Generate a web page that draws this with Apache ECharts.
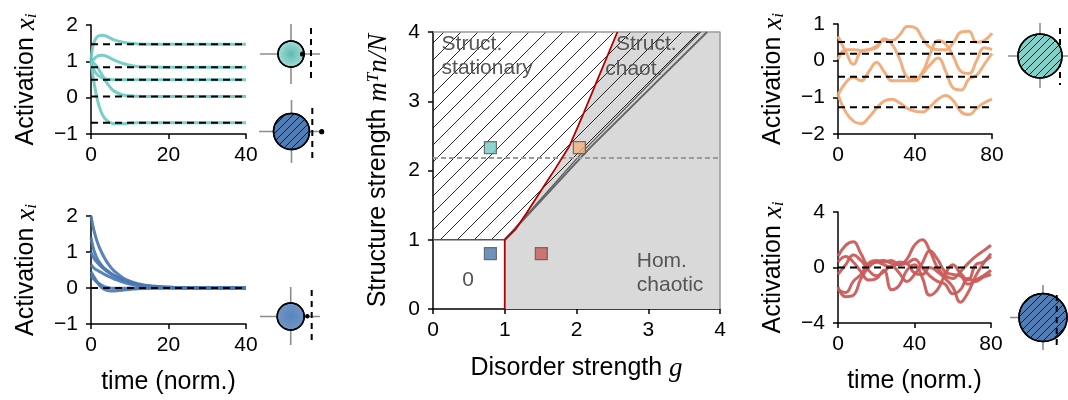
<!DOCTYPE html>
<html>
<head>
<meta charset="utf-8">
<script src="https://cdn.jsdelivr.net/npm/echarts@6/dist/echarts.min.js"></script>
<style>
  html, body { margin: 0; padding: 0; background: #fff; }
  #chart { width: 1068px; height: 400px; }
</style>
</head>
<body>
<div id="chart"></div>
<script>
// ---------- data ----------
// Structured stationary regime (top left): time samples and unit trajectories
const tStat = [0, 0.5, 1, 1.5, 2, 3, 4, 5, 6, 8, 10, 12, 15, 20, 30, 40];
const statA = [1.05, 1.42, 1.58, 1.66, 1.70, 1.72, 1.69, 1.64, 1.59, 1.53, 1.50, 1.48, 1.47, 1.47, 1.47, 1.47];
const statB = [0.95, 1.03, 1.09, 1.13, 1.16, 1.17, 1.14, 1.09, 1.03, 0.95, 0.89, 0.86, 0.85, 0.84, 0.84, 0.84];
const statC = [0.95, 0.82, 0.72, 0.65, 0.60, 0.54, 0.51, 0.50, 0.49, 0.49, 0.49, 0.49, 0.49, 0.49, 0.49, 0.49];
const statD = [1.00, 0.96, 0.92, 0.86, 0.78, 0.60, 0.42, 0.28, 0.18, 0.08, 0.05, 0.04, 0.03, 0.03, 0.03, 0.03];
const statE = [1.05, 0.60, 0.28, 0.02, -0.20, -0.48, -0.62, -0.69, -0.72, -0.72, -0.70, -0.69, -0.69, -0.69, -0.69, -0.69];
const statFixed = [1.47, 0.84, 0.49, 0.03, -0.69];

// Homogeneous stationary regime (bottom left)
const tHom = [0, 0.5, 1, 1.5, 2, 3, 4, 5, 6, 8, 10, 12, 15, 20, 25, 30, 40];
const homA = [2.00, 1.72, 1.50, 1.32, 1.17, 0.93, 0.74, 0.59, 0.47, 0.30, 0.19, 0.12, 0.06, 0.02, 0.01, 0, 0];
const homB = [1.40, 1.15, 0.97, 0.84, 0.74, 0.60, 0.50, 0.42, 0.35, 0.24, 0.16, 0.10, 0.05, 0.02, 0.01, 0, 0];
const homC = [1.00, 0.88, 0.79, 0.72, 0.66, 0.56, 0.47, 0.40, 0.34, 0.23, 0.16, 0.10, 0.05, 0.02, 0.01, 0, 0];
const homD = [0.65, 0.58, 0.53, 0.50, 0.47, 0.41, 0.35, 0.30, 0.25, 0.17, 0.11, 0.07, 0.04, 0.01, 0, 0, 0];
const homE = [0.45, 0.36, 0.27, 0.18, 0.10, -0.01, -0.06, -0.08, -0.08, -0.06, -0.04, -0.02, -0.01, 0, 0, 0, 0];
const homF = [0.35, 0.28, 0.22, 0.17, 0.13, 0.06, 0.02, 0.00, -0.01, -0.01, 0, 0, 0, 0, 0, 0, 0];
const homFixed = [0];

// Structured chaotic regime (top right)
const tChaos = [0, 4, 8, 12, 16, 20, 24, 28, 32, 36, 40, 44, 48, 52, 56, 60, 64, 68, 72, 76, 80];
const scA = [0.66, 0.25, -0.10, 0.25, 0.30, 0.35, 0.60, 0.45, 0.05, -0.45, -0.50, -0.30, 0.20, 0.55, 0.45, 0.10, -0.30, -0.35, 0.00, 0.35, 0.30];
const scB = [0.03, 0.30, 0.30, 0.28, 0.30, 0.40, 0.55, 0.55, 0.70, 0.93, 0.90, 0.60, 0.35, 0.30, 0.30, 0.50, 0.78, 0.80, 0.50, 0.55, 0.75];
const scC = [-0.93, -0.60, -0.45, -0.55, -0.30, -0.05, -0.30, -0.55, -0.55, -0.55, -0.55, -0.35, -0.10, 0.07, -0.30, -0.75, -0.80, -0.50, -0.40, -0.10, 0.20];
const scD = [-0.93, -1.40, -1.65, -1.72, -1.55, -1.30, -1.10, -1.05, -1.15, -1.30, -1.38, -1.40, -1.25, -1.05, -0.95, -1.10, -1.40, -1.47, -1.30, -1.15, -1.05];
const scFixed = [0.51, 0.19, -0.44, -1.27];

// Homogeneous chaotic regime (bottom right)
const hcA = [0.8, 1.6, 1.85, 1.0, 0.2, 0.4, 0.5, 0.3, 0.2, 0.6, 1.6, 2.0, 1.2, 0.0, -0.6, -0.8, -0.3, 0.3, 0.8, 1.2, 1.6];
const hcB = [-1.4, -2.1, -2.0, -0.8, 0.0, 0.4, 0.2, 0.0, 0.4, 0.3, -0.4, -0.5, 0.0, -0.3, -0.8, -1.4, -2.5, -1.8, -0.6, 0.3, 1.0];
const hcC = [-0.5, 0.2, 0.9, 0.5, -0.2, -0.6, -0.3, 0.1, -0.4, -1.0, -0.5, 0.3, 1.2, 0.6, -0.3, -0.5, -0.6, -1.2, -0.9, -0.6, -0.2];
const hcD = [0.4, 0.8, 0.4, -0.3, -0.9, -0.8, -0.2, -1.6, -1.3, -0.2, 0.2, -0.7, -2.0, -1.6, -0.5, 0.2, -0.4, -0.9, 0.2, 0.4, 0.8];
const hcE = [-1.6, -1.8, -1.0, -0.5, 0.3, 0.5, 0.4, 0.5, 0.2, 0.3, 0.6, 0.0, -0.6, -1.0, -1.2, -1.9, -1.6, -0.8, -1.0, -0.7, -0.5];
const hcFixed = [0];

// Phase diagram boundaries (g, m^T n / N)
const chaosOnsetG = [1.00, 1.15, 1.30, 1.50, 1.70, 1.90, 2.10, 2.30, 2.57];
const chaosOnsetY = [1.00, 1.15, 1.38, 1.70, 2.02, 2.35, 2.83, 3.33, 4.00];
const structEdgeInnerG = [1.00, 2.13, 3.73];
const structEdgeOuterG = [1.00, 2.18, 3.82];
const structEdgeY = [1.00, 2.32, 4.00];
const sectionLevel = 2.18;

// Example parameter points (g, m^T n / N)
const exampleG = [0.80, 2.04, 0.80, 1.51];
const exampleY = [2.33, 2.33, 0.80, 0.80];
const exampleColors = ['#73cbc3', '#f2b07e', '#4b76ae', '#c75a56'];

// Region names
const regionText = ['Struct.\nstationary', 'Struct.', 'chaot.', 'Hom.\nchaotic', '0'];
const regionG = [0.12, 2.55, 2.40, 2.84, 0.49];
const regionY = [4.00, 4.00, 3.64, 0.86, 0.42];

// ---------- styling helpers ----------
const FONT = '"Liberation Sans", Arial, sans-serif';
const MATH = '"Liberation Serif", "DejaVu Serif", serif';
const TEAL = 'rgba(108, 203, 194, 0.92)';
const BLUE = 'rgba(74, 120, 178, 0.92)';
const ORANGE = 'rgba(241, 170, 118, 0.95)';
const RED = 'rgba(203, 92, 88, 0.95)';

const minus = v => String(v).replace('-', '\u2212');
const pairs = (xs, ys) => xs.map((x, i) => [x, ys[i]]);

function hatchCanvas(step, width, color) {
  const c = document.createElement('canvas');
  c.width = step; c.height = step;
  const ctx = c.getContext('2d');
  ctx.strokeStyle = color; ctx.lineWidth = width;
  ctx.beginPath();
  ctx.moveTo(-1, step + 1); ctx.lineTo(step + 1, -1);
  ctx.moveTo(-2, 2); ctx.lineTo(2, -2);
  ctx.moveTo(step - 2, step + 2); ctx.lineTo(step + 2, step - 2);
  ctx.stroke();
  return c;
}
const bigHatch = { image: hatchCanvas(17, 0.9, '#111'), repeat: 'repeat' };
const smallHatch = { image: hatchCanvas(8, 1.0, '#111'), repeat: 'repeat' };

const nameRich = {
  a: { fontSize: 25, fontFamily: FONT, color: '#000' },
  x: { fontSize: 27, fontFamily: MATH, fontStyle: 'italic', color: '#000' },
  s: { fontSize: 17, fontFamily: MATH, fontStyle: 'italic', color: '#000', verticalAlign: 'bottom' },
  t: { fontSize: 17, fontFamily: MATH, fontStyle: 'italic', color: '#000', verticalAlign: 'top' }
};

function xAxis(gi, min, max, interval, extra) {
  return Object.assign({
    type: 'value', gridIndex: gi, min, max, interval,
    axisLine: { onZero: false, lineStyle: { color: '#000', width: 1.5 } },
    axisTick: { length: 5, lineStyle: { color: '#000', width: 1.5 } },
    axisLabel: { color: '#000', fontSize: 21, fontFamily: FONT, margin: 11, formatter: minus },
    splitLine: { show: false }
  }, extra || {});
}
function yAxis(gi, min, max, interval, extra) {
  return Object.assign({
    type: 'value', gridIndex: gi, min, max, interval,
    axisLine: { onZero: false, lineStyle: { color: '#000', width: 1.5 } },
    axisTick: { length: 5, lineStyle: { color: '#000', width: 1.5 } },
    axisLabel: { color: '#000', fontSize: 21, fontFamily: FONT, margin: 13, formatter: minus },
    splitLine: { show: false }
  }, extra || {});
}
const activationName = {
  name: '{a|Activation }{x|x}{s|i}', nameLocation: 'middle', nameRotate: 90, nameGap: 51,
  nameTextStyle: { rich: nameRich }
};
const timeName = {
  name: 'time (norm.)', nameLocation: 'middle', nameGap: 46,
  nameTextStyle: { fontSize: 25, fontFamily: FONT, color: '#000' }
};

function traces(axis, t, list, color) {
  return list.map(v => ({
    type: 'line', xAxisIndex: axis, yAxisIndex: axis, data: pairs(t, v),
    smooth: 0.45, symbol: 'none', silent: true, z: 2,
    lineStyle: { color, width: 3 }
  }));
}
function fixedLines(axis, t0, t1, levels) {
  return levels.map(v => ({
    type: 'line', xAxisIndex: axis, yAxisIndex: axis, data: [[t0, v], [t1, v]],
    symbol: 'none', silent: true, z: 4, clip: false,
    lineStyle: { color: '#000', width: 2, type: [7, 5] }
  }));
}
function polygonSeries(points, fill, z) {
  return {
    type: 'custom', xAxisIndex: 2, yAxisIndex: 2, data: [[0, 0]], silent: true, z,
    renderItem: (params, api) => ({
      type: 'polygon',
      shape: { points: points.map(p => api.coord(p)) },
      style: { fill, stroke: null }
    })
  };
}
function segSeries(points, style, z) {
  return {
    type: 'line', xAxisIndex: 2, yAxisIndex: 2, data: points, symbol: 'none',
    silent: true, z, clip: false, lineStyle: style
  };
}

// ---------- phase-diagram geometry from the boundary arrays ----------
const onset = pairs(chaosOnsetG, chaosOnsetY);
const edgeInner = pairs(structEdgeInnerG, structEdgeY);
const edgeOuter = pairs(structEdgeOuterG, structEdgeY);
const grayRegion = [[1, 0], [4, 0], [4, 4]].concat(onset.slice().reverse()).concat([[1, 0]]);
const hatchRegion = [[0, 1]].concat(edgeOuter).concat([[0, 4]]);

const series = []
  .concat(traces(0, tStat, [statA, statB, statC, statD, statE], TEAL))
  .concat(fixedLines(0, 0, 40, statFixed))
  .concat(traces(1, tHom, [homA, homB, homC, homD, homE, homF], BLUE))
  .concat(fixedLines(1, 0, 40, homFixed))
  .concat([
    polygonSeries(grayRegion, '#d9d9d9', 1),
    polygonSeries(hatchRegion, bigHatch, 2),
    segSeries([[0, 4], [4, 4], [4, 0]], { color: '#9a9a9a', width: 1.5 }, 3),
    segSeries([[0, 1], [1, 1]], { color: '#555', width: 1.6 }, 3),
    segSeries(edgeInner, { color: '#555', width: 1.2 }, 3),
    segSeries(edgeOuter, { color: '#666', width: 2 }, 3),
    segSeries([[0, sectionLevel], [4, sectionLevel]], { color: '#9a9a9a', width: 2, type: [5, 3] }, 4),
    segSeries([[1, 0], [1, 1]], { color: '#b00000', width: 1.8 }, 5),
    segSeries(onset, { color: '#b00000', width: 1.8 }, 5),
    {
      type: 'scatter', xAxisIndex: 2, yAxisIndex: 2, silent: true, z: 6,
      symbol: 'rect', symbolSize: 12,
      data: exampleG.map((g, i) => ({
        value: [g, exampleY[i]],
        itemStyle: { color: exampleColors[i], borderColor: '#555', borderWidth: 1.2 }
      }))
    },
    {
      type: 'custom', xAxisIndex: 2, yAxisIndex: 2, silent: true, z: 7,
      data: regionText.map((s, i) => [regionG[i], regionY[i]]),
      renderItem: (params, api) => {
        const p = api.coord([api.value(0), api.value(1)]);
        const single = regionText[params.dataIndex] === '0';
        return {
          type: 'text', x: p[0], y: p[1],
          style: {
            text: regionText[params.dataIndex], fill: '#555',
            fontSize: 21, fontFamily: FONT, lineHeight: 24,
            align: single ? 'center' : 'left', verticalAlign: single ? 'middle' : 'top'
          }
        };
      }
    }
  ])
  .concat(traces(3, tChaos, [scA, scB, scC, scD], ORANGE))
  .concat(fixedLines(3, 0, 80, scFixed))
  .concat(traces(4, tChaos, [hcA, hcB, hcC, hcD, hcE], RED))
  .concat(fixedLines(4, 0, 80, hcFixed));

// ---------- schematic connectivity icons ----------
function crossIcon(cx, cy, hx0, hx1, vy0, vy1) {
  return [
    { type: 'line', shape: { x1: hx0, y1: cy, x2: hx1, y2: cy }, style: { stroke: '#8c8c8c', lineWidth: 1.6 }, z: 10 },
    { type: 'line', shape: { x1: cx, y1: vy0, x2: cx, y2: vy1 }, style: { stroke: '#8c8c8c', lineWidth: 1.6 }, z: 10 }
  ];
}
function dashV(x, y0, y1, z) {
  return { type: 'line', shape: { x1: x, y1: y0, x2: x, y2: y1 }, style: { stroke: '#000', lineWidth: 2, lineDash: [6, 5] }, z };
}
function disc(cx, cy, r, fill, hatched) {
  const out = [{ type: 'circle', shape: { cx, cy, r }, style: { fill, stroke: '#000', lineWidth: 1.5 }, z: 12 }];
  if (hatched) out.push({ type: 'circle', shape: { cx, cy, r: r - 0.6 }, style: { fill: smallHatch, stroke: null }, z: 13 });
  out.push({ type: 'circle', shape: { cx, cy, r }, style: { fill: null, stroke: '#000', lineWidth: 1.5 }, z: 14 });
  return out;
}
function dot(x, y, r) {
  return { type: 'circle', shape: { cx: x, cy: y, r }, style: { fill: '#000' }, z: 16 };
}
const tealGlow = { type: 'radial', x: 0.5, y: 0.5, r: 0.5,
  colorStops: [{ offset: 0, color: '#5cbab1' }, { offset: 1, color: '#a3e0da' }] };
const blueGlow = { type: 'radial', x: 0.5, y: 0.5, r: 0.5,
  colorStops: [{ offset: 0, color: '#5a84bb' }, { offset: 1, color: '#6f96c7' }] };

const graphic = []
  .concat(crossIcon(291, 54, 260, 320, 24, 84), [dashV(311, 28, 82, 11)], disc(291, 54, 13, tealGlow, false), [dot(302.5, 54, 2.6)])
  .concat(crossIcon(291.5, 131.5, 259, 323, 100, 163), [dashV(312.3, 108, 163, 11)], disc(291.5, 131.5, 18, '#4f7db6', true), [dot(321.7, 131.7, 2.6)])
  .concat(crossIcon(290.7, 316.5, 260, 320, 287, 345), [dashV(311.7, 290, 345, 11)], disc(290.7, 316.5, 13.5, blueGlow, false), [dot(307.3, 316.3, 2.2)])
  .concat(crossIcon(1040, 56, 1008, 1070, 23, 88), [dashV(1060, 28, 85, 11)], disc(1040, 56, 22, '#7fd1c9', true))
  .concat(crossIcon(1043, 317.5, 1010, 1070, 285, 350), disc(1043, 317.5, 24, '#4f7db6', true), [dashV(1056.7, 295, 348, 15)]);

// ---------- chart ----------
const chart = echarts.init(document.getElementById('chart'), null, { renderer: 'canvas' });
chart.setOption({
  animation: false,
  backgroundColor: '#fff',
  grid: [
    { left: 91, top: 25, width: 155, height: 109 },
    { left: 91, top: 216, width: 155, height: 108 },
    { left: 433, top: 32, width: 287, height: 277 },
    { left: 838, top: 24, width: 154, height: 110 },
    { left: 838, top: 212, width: 153, height: 111 }
  ],
  xAxis: [
    xAxis(0, 0, 40, 20),
    xAxis(1, 0, 40, 20, timeName),
    xAxis(2, 0, 4, 1, {
      name: 'Disorder strength {x|g}', nameLocation: 'middle', nameGap: 46,
      nameTextStyle: { fontSize: 25, fontFamily: FONT, color: '#000', rich: nameRich }
    }),
    xAxis(3, 0, 80, 40),
    xAxis(4, 0, 80, 40, timeName)
  ],
  yAxis: [
    yAxis(0, -1, 2, 1, activationName),
    yAxis(1, -1, 2, 1, activationName),
    yAxis(2, 0, 4, 1, {
      name: '{a|Structure strength }{x|m}{t|T}{x|n/N}', nameLocation: 'middle', nameRotate: 90, nameGap: 41,
      nameTextStyle: { rich: nameRich }
    }),
    yAxis(3, -2, 1, 1, activationName),
    yAxis(4, -4, 4, 4, activationName)
  ],
  series,
  graphic
});
</script>
</body>
</html>
